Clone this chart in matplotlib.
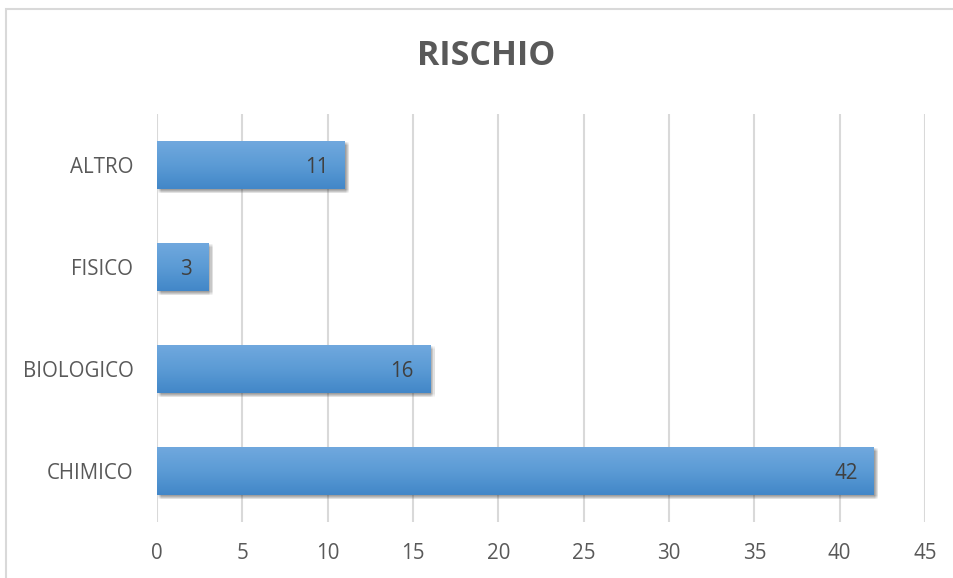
import numpy as np
import matplotlib
matplotlib.use("Agg")
import matplotlib.pyplot as plt
from matplotlib.patches import Rectangle
from matplotlib.colors import LinearSegmentedColormap
import matplotlib.patheffects as pe

# data
categories = ['CHIMICO', 'BIOLOGICO', 'FISICO', 'ALTRO']
values = [42, 16, 3, 11]
x_ticks = [0, 5, 10, 15, 20, 25, 30, 35, 40, 45]

plt.rcParams['font.family'] = ['Open Sans', 'DejaVu Sans']
TEXT = '#595959'
GRID = '#D9D9D9'
BAR_H = 0.47
FS = 14.8

fig = plt.figure(figsize=(9.54, 5.78), dpi=100)
ax = fig.add_axes([157 / 954, 1 - 522 / 578, 768 / 954, 408 / 578])

# outer chart border (only top and left visible)
fig.patches.append(Rectangle((6 / 954, -0.1), 1.2, 1 - 9 / 578 + 0.1,
                             transform=fig.transFigure, fill=False,
                             edgecolor=GRID, linewidth=1.5))

# soft shadow: several faint offset copies
shadow = []
for dx in (0.8, 1.6, 2.4, 3.2):
    for dy in (-0.8, -1.6, -2.4, -3.2):
        shadow.append(pe.SimplePatchShadow(offset=(dx, dy), shadow_rgbFace='#404040', alpha=0.04))
shadow.append(pe.Normal())

ypos = np.arange(len(categories))
bars = ax.barh(ypos, values, height=BAR_H, color='#5B9BD5', zorder=2,
               path_effects=shadow)

# vertical gradient on top of each bar
cmap = LinearSegmentedColormap.from_list('g', ['#70A8DE', '#5B9BD5', '#4287C8'])
grad = np.linspace(0, 1, 64).reshape(-1, 1)
for y, v in zip(ypos, values):
    ax.imshow(grad, cmap=cmap, aspect='auto', origin='upper',
              extent=(0, v, y - BAR_H / 2, y + BAR_H / 2), zorder=3)
    ax.text(v - 0.95, y, str(v), ha='right', va='center_baseline', fontsize=FS,
            color='#404040', zorder=4)

ax.set_xlim(0, 45)
ax.set_ylim(-0.5, 3.5)
ax.set_xticks(x_ticks)
ax.set_yticks(ypos)
ax.set_yticklabels(categories)
ax.tick_params(axis='both', length=0, labelsize=FS, labelcolor=TEXT)
ax.tick_params(axis='y', pad=17)
ax.tick_params(axis='x', pad=15)
for s in ax.spines.values():
    s.set_visible(False)
ax.grid(axis='x', color=GRID, linewidth=1.5, zorder=0)
ax.set_axisbelow(True)

fig.text(486 / 954, 1 - 56 / 578, 'RISCHIO', ha='center', va='center',
         fontsize=24.5, fontweight='bold', color=TEXT)

fig.savefig('out.png', dpi=100)
